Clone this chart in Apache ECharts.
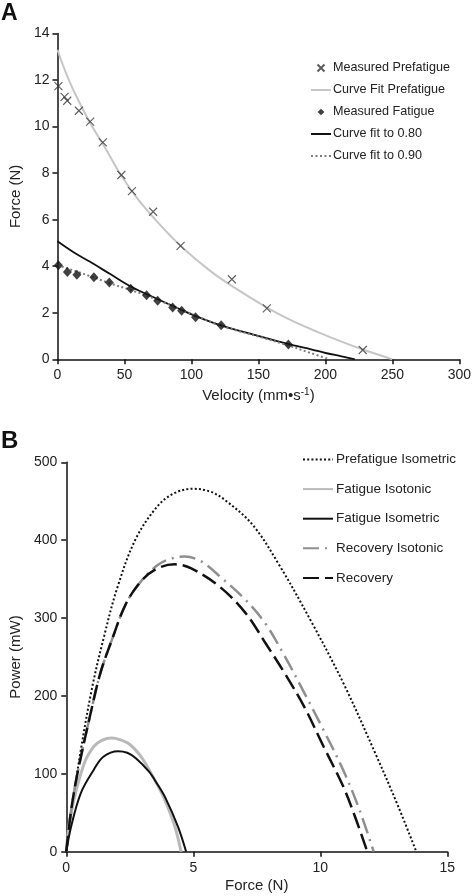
<!DOCTYPE html>
<html><head><meta charset="utf-8">
<script src="https://cdn.jsdelivr.net/npm/echarts@6/dist/echarts.min.js"></script>
<style>html,body{margin:0;padding:0;background:#fff}#c{width:474px;height:896px}</style>
</head><body><div id="c"></div>
<script>
// ---------- Panel A data ----------
const velPrefatigueMeasured   = [0.7, 5.3, 7.3, 16, 24.4, 33.9, 47.7, 55.6, 71.4, 91.9, 130.2, 156.3, 227.9];
const forcePrefatigueMeasured = [11.74, 11.28, 11.11, 10.68, 10.21, 9.32, 7.92, 7.23, 6.34, 4.87, 3.44, 2.19, 0.40];
const velPrefatigueFit   = [0, 6, 12, 24, 36, 47, 60, 75, 92, 114, 131, 157, 175, 194, 212, 228, 250];
const forcePrefatigueFit = [13.3, 12.35, 11.55, 10.2, 9.05, 7.95, 6.88, 5.88, 4.87, 3.8, 3.12, 2.2, 1.66, 1.18, 0.76, 0.42, 0];
const velFatigueMeasured   = [0.7, 7.4, 14.5, 27.2, 38.7, 54.7, 66.5, 74.8, 86, 92.7, 103.1, 122.2, 172.4];
const forceFatigueMeasured = [4.04, 3.75, 3.63, 3.53, 3.30, 3.03, 2.75, 2.52, 2.23, 2.09, 1.81, 1.46, 0.64];
const velFit080   = [0, 12, 24, 40, 55, 75, 92, 104, 122, 152, 172, 190, 201, 212, 222];
const forceFit080 = [5.07, 4.6, 4.2, 3.64, 3.12, 2.58, 2.14, 1.84, 1.46, 0.97, 0.66, 0.42, 0.26, 0.13, 0];
const velFit090   = [0, 20, 40, 55, 75, 92, 104, 122, 150, 172, 189, 203];
const forceFit090 = [4.05, 3.66, 3.25, 2.97, 2.55, 2.14, 1.86, 1.44, 0.98, 0.6, 0.27, 0];
const namesA = ['Measured Prefatigue', 'Curve Fit Prefatigue', 'Measured Fatigue', 'Curve fit to 0.80', 'Curve fit to 0.90'];

// ---------- Panel B data ----------
const forcePreIso = [0, 0.2, 0.57, 1.02, 1.47, 2.0, 2.74, 3.63, 4.3, 5.0, 5.7, 6.31, 7.33, 8.35, 9.62, 10.9, 12.17, 13.07, 13.78];
const powerPreIso = [0, 50, 130, 211, 274, 338, 402, 445, 461, 466, 462, 450, 420, 370, 297, 217, 126, 58, 0];
const forceFatIsoton = [0, 0.19, 0.7, 1.08, 1.4, 1.785, 2.1, 2.49, 2.9, 3.25, 3.6, 3.89, 4.27, 4.52];
const powerFatIsoton = [0, 50, 113, 135, 143, 146, 144, 138, 124, 106, 85, 66, 33, 0];
const forceFatIsom = [0, 0.19, 0.57, 1.08, 1.46, 2.04, 2.4, 2.74, 3.25, 3.6, 3.89, 4.4, 4.72];
const powerFatIsom = [0, 32, 75, 105, 122, 129, 127, 120, 103, 86, 70, 32, 0];
const forceRecIsoton = [0, 0.2, 0.45, 0.96, 1.34, 1.785, 2.36, 2.99, 3.6, 4.1, 4.65, 5.3, 6.1, 7.07, 7.84, 8.6, 9.37, 10.13, 10.9, 11.54, 12.1];
const powerRecIsoton = [0, 55, 102, 178, 229, 271, 319, 349, 368, 376, 379, 373, 352, 323, 293, 251, 204, 156, 105, 54, 0];
const forceRec = [0, 0.2, 0.45, 0.96, 1.34, 1.785, 2.36, 2.99, 3.6, 4.27, 4.9, 6.05, 7.07, 7.84, 8.6, 9.37, 10.13, 10.9, 11.4, 11.85];
const powerRec = [0, 55, 102, 178, 229, 271, 319, 349, 364, 369, 364, 340, 306, 268, 229, 186, 135, 84, 42, 0];
const namesB = ['Prefatigue Isometric', 'Fatigue Isotonic', 'Fatigue Isometric', 'Recovery Isotonic', 'Recovery'];

// ---------- build ----------
const FF = "'Liberation Sans', Arial, Helvetica, sans-serif";
const zip = (xs, ys) => xs.map((x, i) => [x, ys[i]]);

function axis(min, max, interval, labelMargin, extra) {
  return Object.assign({
    type: 'value', min, max, interval,
    axisLine: { show: true, onZero: false, lineStyle: { color: '#111', width: 1.5 } },
    axisTick: { show: true, inside: false, length: 5, lineStyle: { color: '#111', width: 1.5 } },
    splitLine: { show: false },
    axisLabel: { color: '#222', fontSize: 14, margin: labelMargin, fontFamily: FF },
    nameTextStyle: { color: '#222', fontSize: 15, fontFamily: FF }
  }, extra);
}

function line(name, xi, data, color, width, type, z) {
  return {
    name, type: 'line', xAxisIndex: xi, yAxisIndex: xi, data,
    smooth: 0.35, symbol: 'none', showSymbol: false,
    lineStyle: { color, width, type }, itemStyle: { color }, z: z || 2, silent: true
  };
}

// legend entries: lines without a symbol dot
const lineEntry = name => ({ name, itemStyle: { opacity: 0 } });

const chart = echarts.init(document.getElementById('c'), null, { renderer: 'canvas' });
chart.setOption({
  animation: false,
  backgroundColor: '#fff',
  textStyle: { fontFamily: FF },
  title: [
    { text: 'A', left: 1, top: 2, padding: 0, textStyle: { fontSize: 23, fontWeight: 'bold', color: '#111', fontFamily: FF } },
    { text: 'B', left: 1, top: 429, padding: 0, textStyle: { fontSize: 24, fontWeight: 'bold', color: '#111', fontFamily: FF } }
  ],
  grid: [
    { left: 50, top: 33.5, width: 413, height: 325.8 },
    { left: 55, top: 462.3, width: 392.3, height: 389.4 }
  ],
  xAxis: [
    axis(0, 300, 50, 9, { gridIndex: 0, name: 'Velocity (mm•s{sup|-1})', nameLocation: 'middle', nameGap: 28,
      nameTextStyle: { color: '#222', fontSize: 15, fontFamily: FF, lineHeight: 18,
        rich: { sup: { fontSize: 10, lineHeight: 10, verticalAlign: 'top', color: '#222', fontFamily: FF } } } }),
    axis(0, 15, 5, 9, { gridIndex: 1, name: 'Force (N)', nameLocation: 'middle', nameGap: 27 })
  ],
  yAxis: [
    axis(0, 14, 2, 8, { gridIndex: 0, name: 'Force (N)', nameLocation: 'middle', nameGap: 33 }),
    axis(0, 500, 100, 9, { gridIndex: 1, name: 'Power (mW)', nameLocation: 'middle', nameGap: 37 })
  ],
  legend: [
    {
      data: [
        { name: namesA[0], icon: 'path://M0,0M20,8M6.5,0.5L13.5,7.5M13.5,0.5L6.5,7.5' },
        lineEntry(namesA[1]),
        { name: namesA[2], icon: 'path://M0,0M20,8M10,0.8L13.4,4L10,7.2L6.6,4Z' },
        lineEntry(namesA[3]),
        lineEntry(namesA[4])
      ],
      orient: 'vertical', left: 310, top: 60.5, padding: 0, itemWidth: 20, itemHeight: 8, itemGap: 7,
      textStyle: { fontSize: 12.6, color: '#222', fontFamily: FF, lineHeight: 15, padding: [0, 0, 0, -3] }, selectedMode: false
    },
    {
      data: namesB.map(lineEntry),
      orient: 'vertical', left: 302, top: 451.5, padding: 0, itemWidth: 30, itemHeight: 14, itemGap: 13.6,
      textStyle: { fontSize: 13.5, color: '#222', fontFamily: FF, lineHeight: 16, padding: [0, 0, 0, -2] }, selectedMode: false
    }
  ],
  series: [
    line('Curve Fit Prefatigue', 0, zip(velPrefatigueFit, forcePrefatigueFit), '#c6c6c6', 2, 'solid'),
    line('Curve fit to 0.80', 0, zip(velFit080, forceFit080), '#111', 1.8, 'solid'),
    line('Curve fit to 0.90', 0, zip(velFit090, forceFit090), '#7d7d7d', 2, [2, 2.5], 3),
    {
      name: 'Measured Prefatigue', type: 'scatter', xAxisIndex: 0, yAxisIndex: 0,
      data: zip(velPrefatigueMeasured, forcePrefatigueMeasured),
      symbol: 'path://M0,0L10,10M10,0L0,10', symbolSize: 8,
      itemStyle: { color: '#333', borderColor: '#333', borderWidth: 1.1 }, z: 4, silent: true
    },
    {
      name: 'Measured Fatigue', type: 'scatter', xAxisIndex: 0, yAxisIndex: 0,
      data: zip(velFatigueMeasured, forceFatigueMeasured),
      symbol: 'diamond', symbolSize: [9, 10],
      itemStyle: { color: '#111' }, z: 4, silent: true
    },
    line('Prefatigue Isometric', 1, zip(forcePreIso, powerPreIso), '#111', 2, [2, 2.2]),
    line('Fatigue Isotonic', 1, zip(forceFatIsoton, powerFatIsoton), '#b9b9b9', 3, 'solid'),
    line('Fatigue Isometric', 1, zip(forceFatIsom, powerFatIsom), '#111', 2, 'solid', 3),
    line('Recovery Isotonic', 1, zip(forceRecIsoton, powerRecIsoton), '#8f8f8f', 2.5, [16, 6, 2, 6]),
    line('Recovery', 1, zip(forceRec, powerRec), '#111', 2.5, [16, 6], 3)
  ]
});
</script></body></html>
